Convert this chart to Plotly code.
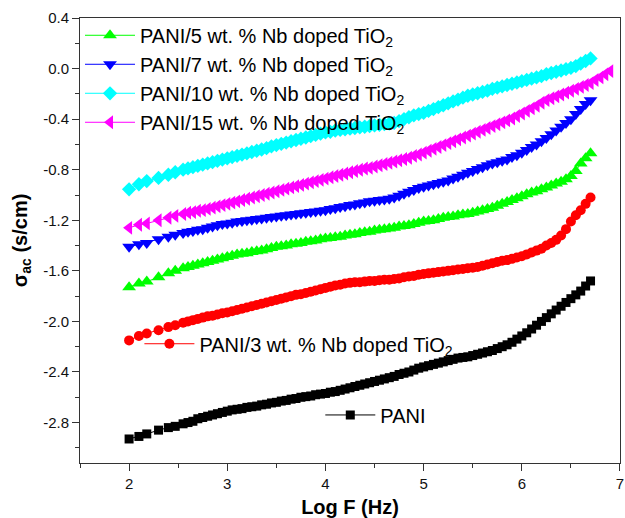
import plotly.graph_objects as go

# Log F (Hz) values shared by the series
LOGF = [2.0, 2.1, 2.18, 2.3, 2.4, 2.47, 2.55, 2.6, 2.65, 2.7,
        2.75, 2.8, 2.85, 2.9, 2.95, 3.0, 3.05, 3.1, 3.15, 3.2,
        3.25, 3.3, 3.35, 3.4, 3.45, 3.5, 3.55, 3.6, 3.65, 3.7,
        3.75, 3.8, 3.85, 3.9, 3.95, 4.0, 4.05, 4.1, 4.15, 4.2,
        4.25, 4.3, 4.35, 4.4, 4.45, 4.5, 4.55, 4.6, 4.65, 4.7,
        4.75, 4.8, 4.85, 4.9, 4.95, 5.0, 5.05, 5.1, 5.15, 5.2,
        5.25, 5.3, 5.35, 5.4, 5.45, 5.5, 5.55, 5.6, 5.65, 5.7,
        5.75, 5.8, 5.85, 5.9, 5.95, 6.0, 6.05, 6.1, 6.15, 6.2,
        6.25, 6.3, 6.35, 6.4, 6.45, 6.5, 6.55, 6.6, 6.65, 6.7]
LOGF_15_EXTRA = [6.75, 6.8, 6.85, 6.9]

PANI = [-2.93, -2.91, -2.89, -2.86, -2.84, -2.83, -2.81, -2.80, -2.79, -2.77,
        -2.76, -2.75, -2.74, -2.73, -2.72, -2.71, -2.70, -2.695, -2.69, -2.68,
        -2.675, -2.67, -2.66, -2.655, -2.645, -2.64, -2.63, -2.625, -2.615, -2.61,
        -2.60, -2.595, -2.59, -2.58, -2.575, -2.57, -2.56, -2.555, -2.545, -2.535,
        -2.525, -2.515, -2.505, -2.495, -2.485, -2.475, -2.465, -2.455, -2.445, -2.435,
        -2.42, -2.41, -2.40, -2.385, -2.37, -2.36, -2.35, -2.34, -2.33, -2.32,
        -2.31, -2.30, -2.29, -2.285, -2.28, -2.27, -2.26, -2.25, -2.24, -2.23,
        -2.215, -2.20, -2.185, -2.165, -2.14, -2.115, -2.09, -2.06, -2.03, -2.0,
        -1.97, -1.94, -1.91, -1.88, -1.85, -1.82, -1.79, -1.76, -1.72, -1.68]

NB3 = [-2.15, -2.115, -2.095, -2.07, -2.045, -2.03, -2.01, -2.0, -1.99, -1.98,
       -1.97, -1.96, -1.955, -1.945, -1.935, -1.93, -1.92, -1.91, -1.90, -1.89,
       -1.88, -1.87, -1.86, -1.85, -1.84, -1.83, -1.82, -1.81, -1.80, -1.79,
       -1.785, -1.775, -1.765, -1.755, -1.745, -1.735, -1.725, -1.715, -1.71, -1.70,
       -1.695, -1.69, -1.69, -1.685, -1.68, -1.68, -1.675, -1.67, -1.67, -1.665,
       -1.66, -1.65, -1.645, -1.64, -1.63, -1.625, -1.62, -1.615, -1.61, -1.605,
       -1.60, -1.595, -1.59, -1.585, -1.58, -1.575, -1.57, -1.56, -1.55, -1.54,
       -1.53, -1.52, -1.515, -1.505, -1.495, -1.485, -1.47, -1.455, -1.44, -1.425,
       -1.40, -1.38, -1.355, -1.32, -1.27, -1.21, -1.16, -1.12, -1.07, -1.02]

NB5 = [-1.73, -1.70, -1.685, -1.65, -1.62, -1.60, -1.58, -1.57, -1.56, -1.55,
       -1.54, -1.53, -1.52, -1.51, -1.50, -1.49, -1.48, -1.47, -1.465, -1.46,
       -1.45, -1.445, -1.44, -1.43, -1.42, -1.41, -1.405, -1.40, -1.39, -1.385,
       -1.38, -1.37, -1.365, -1.36, -1.35, -1.345, -1.34, -1.335, -1.33, -1.32,
       -1.315, -1.31, -1.30, -1.295, -1.29, -1.28, -1.275, -1.27, -1.265, -1.26,
       -1.25, -1.245, -1.24, -1.23, -1.22, -1.21, -1.205, -1.20, -1.19, -1.18,
       -1.175, -1.17, -1.16, -1.155, -1.15, -1.14, -1.13, -1.12, -1.11, -1.10,
       -1.085, -1.07, -1.055, -1.04, -1.025, -1.01, -0.995, -0.98, -0.97, -0.955,
       -0.94, -0.925, -0.91, -0.895, -0.875, -0.85, -0.81, -0.75, -0.71, -0.67]

NB7 = [-1.41, -1.39, -1.38, -1.35, -1.33, -1.315, -1.30, -1.29, -1.285, -1.275,
       -1.27, -1.26, -1.25, -1.24, -1.23, -1.225, -1.22, -1.21, -1.205, -1.20,
       -1.195, -1.19, -1.185, -1.18, -1.175, -1.17, -1.165, -1.16, -1.155, -1.15,
       -1.145, -1.14, -1.135, -1.13, -1.125, -1.12, -1.11, -1.105, -1.095, -1.09,
       -1.08, -1.075, -1.065, -1.06, -1.05, -1.045, -1.04, -1.035, -1.03, -1.02,
       -1.005, -0.99, -0.975, -0.96, -0.945, -0.935, -0.925, -0.915, -0.905, -0.895,
       -0.885, -0.87, -0.855, -0.84, -0.825, -0.81, -0.795, -0.78, -0.765, -0.75,
       -0.74, -0.73, -0.72, -0.70, -0.685, -0.665, -0.645, -0.62, -0.60, -0.575,
       -0.55, -0.52, -0.49, -0.46, -0.43, -0.40, -0.36, -0.32, -0.28, -0.25]

NB10 = [-0.955, -0.915, -0.89, -0.865, -0.84, -0.82, -0.80, -0.79, -0.78, -0.77,
        -0.76, -0.75, -0.74, -0.73, -0.72, -0.71, -0.70, -0.69, -0.68, -0.67,
        -0.66, -0.65, -0.64, -0.63, -0.615, -0.605, -0.595, -0.585, -0.575, -0.565,
        -0.555, -0.545, -0.535, -0.525, -0.515, -0.505, -0.50, -0.49, -0.485, -0.48,
        -0.475, -0.47, -0.465, -0.46, -0.455, -0.45, -0.445, -0.44, -0.435, -0.43,
        -0.415, -0.40, -0.385, -0.37, -0.36, -0.35, -0.335, -0.32, -0.305, -0.29,
        -0.275, -0.26, -0.245, -0.23, -0.215, -0.205, -0.195, -0.185, -0.175, -0.16,
        -0.15, -0.14, -0.13, -0.12, -0.11, -0.10, -0.09, -0.08, -0.07, -0.06,
        -0.045, -0.035, -0.025, -0.015, -0.005, 0.005, 0.02, 0.04, 0.06, 0.08]

NB15 = [-1.26, -1.235, -1.225, -1.20, -1.18, -1.165, -1.15, -1.14, -1.135, -1.125,
        -1.12, -1.11, -1.10, -1.09, -1.08, -1.07, -1.06, -1.05, -1.04, -1.03,
        -1.02, -1.01, -1.0, -0.99, -0.98, -0.97, -0.96, -0.95, -0.94, -0.93,
        -0.92, -0.91, -0.90, -0.89, -0.88, -0.87, -0.86, -0.85, -0.84, -0.83,
        -0.82, -0.81, -0.80, -0.79, -0.785, -0.775, -0.765, -0.755, -0.745, -0.735,
        -0.725, -0.715, -0.705, -0.69, -0.68, -0.665, -0.65, -0.635, -0.62, -0.605,
        -0.59, -0.575, -0.56, -0.545, -0.53, -0.515, -0.50, -0.485, -0.47, -0.455,
        -0.44, -0.425, -0.41, -0.395, -0.375, -0.355, -0.335, -0.315, -0.295, -0.27,
        -0.25, -0.235, -0.22, -0.205, -0.19, -0.175, -0.16, -0.145, -0.13, -0.115,
        -0.09, -0.07, -0.045, -0.02]

X_TICKS = [2, 3, 4, 5, 6, 7]
Y_TICKS = [0.4, 0.0, -0.4, -0.8, -1.2, -1.6, -2.0, -2.4, -2.8]
Y_TICK_TEXT = ["0.4", "0.0", "-0.4", "-0.8", "-1.2", "-1.6", "-2.0", "-2.4", "-2.8"]

SERIES = [
    ("PANI/5 wt. % Nb doped TiO<sub>2</sub>", LOGF, NB5, "#00FF00", "triangle-up", 12, "legend"),
    ("PANI/7 wt. % Nb doped TiO<sub>2</sub>", LOGF, NB7, "#0000FF", "triangle-down", 12, "legend"),
    ("PANI/10 wt. % Nb doped TiO<sub>2</sub>", LOGF, NB10, "#00FFFF", "diamond", 11, "legend"),
    ("PANI/15 wt. % Nb doped TiO<sub>2</sub>", LOGF + LOGF_15_EXTRA, NB15, "#FF00FF", "triangle-left", 12, "legend"),
    ("PANI/3 wt. % Nb doped TiO<sub>2</sub>", LOGF, NB3, "#FF0000", "circle", 10, "legend2"),
    ("PANI", LOGF, PANI, "#000000", "square", 9, "legend3"),
]

fig = go.Figure()
for name, xs, ys, col, sym, sz, lg in SERIES:
    fig.add_trace(go.Scatter(
        x=xs, y=ys, name=name, mode="lines+markers",
        line=dict(color=col, width=1),
        marker=dict(symbol=sym, size=sz, color=col, line=dict(width=0)),
        legend=lg,
    ))

FONT = "Liberation Sans, Arial, sans-serif"
legend_common = dict(bgcolor="rgba(0,0,0,0)", borderwidth=0,
                     font=dict(family=FONT, size=20, color="#000"),
                     itemwidth=50, xanchor="left", itemclick=False)

fig.update_layout(
    width=625, height=518,
    margin=dict(l=80, r=5, t=18, b=55, autoexpand=False),
    plot_bgcolor="white", paper_bgcolor="white",
    font=dict(family=FONT, color="#000"),
    legend=dict(x=0.0, y=1.005, yanchor="top", tracegroupgap=0, **legend_common),
    legend2=dict(x=0.11, y=0.268, yanchor="middle", **legend_common),
    legend3=dict(x=0.445, y=0.108, yanchor="middle", **legend_common),
    xaxis=dict(
        range=[1.5, 7.0001], tickvals=X_TICKS, ticks="outside", ticklen=7,
        tickwidth=1, tickcolor="#333", showline=True, linecolor="#333",
        linewidth=1, mirror=True, showgrid=False, zeroline=False,
        ticklabeloverflow="allow", automargin=False,
        tickfont=dict(size=15, family=FONT, color="#111"),
        minor=dict(dtick=0.5, tick0=0, ticks="outside", ticklen=4, tickcolor="#333"),
        title=dict(text="<b>Log F (Hz)</b>", font=dict(size=20, family=FONT), standoff=8),
    ),
    yaxis=dict(
        range=[-3.12, 0.4001], tickvals=Y_TICKS, ticktext=Y_TICK_TEXT,
        ticks="outside", ticklen=7,
        tickwidth=1, tickcolor="#333", showline=True, linecolor="#333",
        linewidth=1, mirror=True, showgrid=False, zeroline=False,
        ticklabeloverflow="allow", automargin=False,
        tickfont=dict(size=15, family=FONT, color="#111"),
        minor=dict(dtick=0.2, tick0=0, ticks="outside", ticklen=4, tickcolor="#333"),
        title=dict(text="<b>σ<sub>ac</sub> (s/cm)</b>", font=dict(size=20, family=FONT), standoff=10),
    ),
)

fig.write_html("out.html")
